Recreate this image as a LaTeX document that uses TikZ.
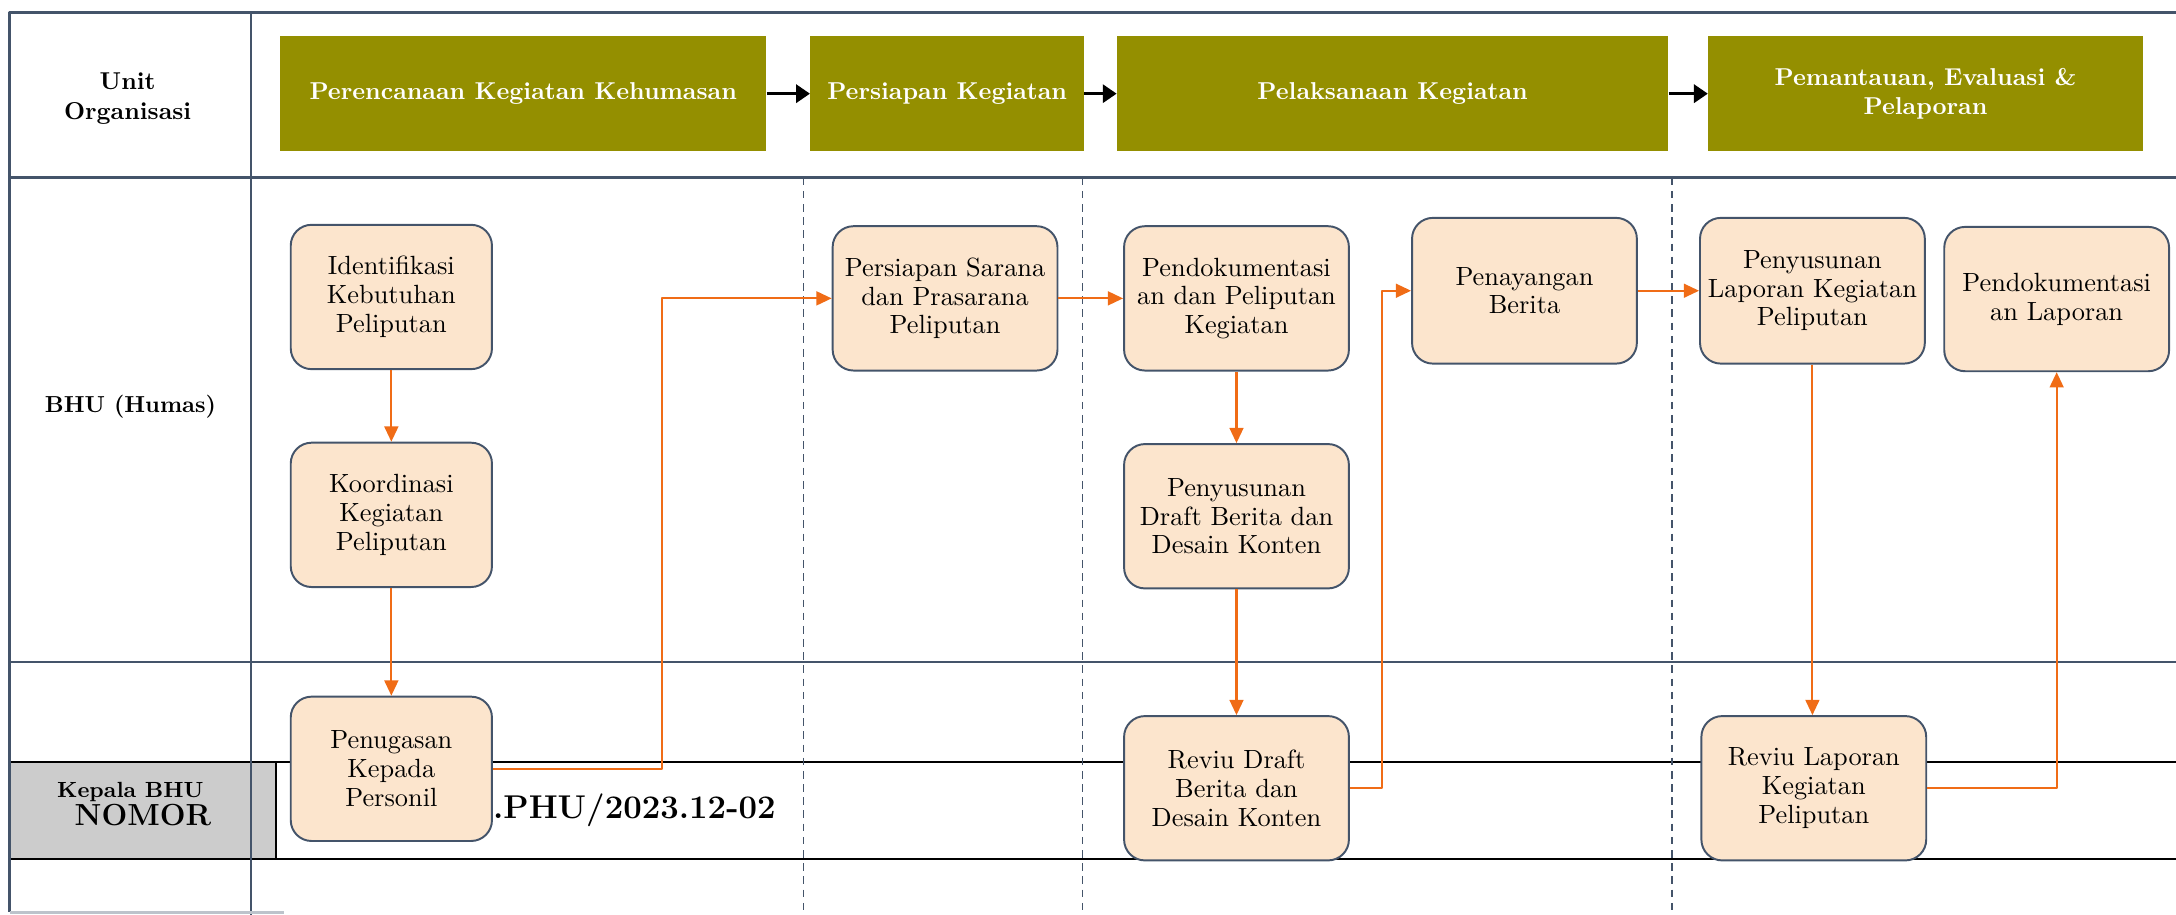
\documentclass[tikz,border=0pt]{standalone}
\usetikzlibrary{arrows.meta,positioning}
\definecolor{phasecol}{RGB}{148,143,0}
\definecolor{peach}{RGB}{252,229,205}
\definecolor{lanecol}{RGB}{68,84,106}
\definecolor{flowcol}{RGB}{240,108,22}
\definecolor{nomgray}{RGB}{204,204,204}
\begin{document}
\begin{tikzpicture}[x=0.2mm, y=-0.2mm, line join=round,
	phase/.style={fill=phasecol, text=white, font=\bfseries, align=center, minimum height=16.6mm, inner sep=0pt},
	proc/.style={draw=lanecol, line width=0.8pt, fill=peach, rounded corners=3mm, align=center, minimum width=32.4mm, minimum height=20.8mm, inner sep=1pt, font=\fontsize{10.8}{11.8}\selectfont},
	flow/.style={draw=flowcol, line width=0.85pt, -{Triangle[length=2.2mm,width=2mm]}},
	lane/.style={draw=lanecol, line width=1pt},
	phasearrow/.style={line width=1.3pt, -{Triangle[length=2mm,width=2.6mm]}}]
	\useasboundingbox (0,0) rectangle (1568,659);
	% baris nomor
	\filldraw[fill=nomgray, line width=1pt] (7,549) rectangle (199,619);
	\draw[line width=1pt] (199,549) -- (1568,549) (199,619) -- (1568,619);
	\node[font=\small\bfseries] (kepala) at (94,571) {Kepala BHU};
	\node[font=\fontsize{12.5}{14}\selectfont\bfseries] (nomor) at (103,587) {NOMOR};
	\node[font=\fontsize{13.5}{16}\selectfont\bfseries, anchor=west, inner sep=0pt] (nomval) at (355,584) {.PHU/2023.12-02};
	% garis lajur
	\draw[lane] (1568,9) -- (7,9) -- (7,657) (181,9) -- (181,659) (7,128) -- (1568,128) (7,477) -- (1568,477);
	\draw[lanecol!35, line width=1pt] (7,657.5) -- (205,657.5);
	\foreach \x in {579,780,1205} \draw[lanecol, line width=0.75pt, dash pattern=on 1.1mm off 0.8mm] (\x,128) -- (\x,659);
	\node[font=\bfseries, align=center] (unit) at (92,71) {Unit\\Organisasi};
	\node[font=\fontsize{9.5}{11}\selectfont\bfseries] (bhu) at (94,293) {BHU (Humas)};
	% tahapan
	\node[phase, minimum width=70mm] (ph1) at (377,67.5) {Perencanaan Kegiatan Kehumasan};
	\node[phase, minimum width=39.4mm] (ph2) at (682.5,67.5) {Persiapan Kegiatan};
	\node[phase, minimum width=79.4mm] (ph3) at (1003.5,67.5) {Pelaksanaan Kegiatan};
	\node[phase, minimum width=62.6mm] (ph4) at (1387.5,67.5) {Pemantauan, Evaluasi \&\\Pelaporan};
	\draw[phasearrow] (ph1) -- (ph2);
	\draw[phasearrow] (ph2) -- (ph3);
	\draw[phasearrow] (ph3) -- (ph4);
	% kegiatan
	\node[proc, minimum width=29mm] (idn) at (282,214) {Identifikasi\\Kebutuhan\\Peliputan};
	\node[proc, minimum width=29mm] (koor) at (282,371) {Koordinasi\\Kegiatan\\Peliputan};
	\node[proc, minimum width=29mm] (tugas) at (282,554) {Penugasan\\Kepada\\Personil};
	\node[proc] (sarana) at (681,215) {Persiapan Sarana\\dan Prasarana\\Peliputan};
	\node[proc] (doku) at (891,215) {Pendokumentasi\\an dan Peliputan\\Kegiatan};
	\node[proc] (draft) at (891,372) {Penyusunan\\Draft Berita dan\\Desain Konten};
	\node[proc] (revdraft) at (891,568) {Reviu Draft\\Berita dan\\Desain Konten};
	\node[proc, minimum height=21mm] (tayang) at (1098.5,209.5) {Penayangan\\Berita};
	\node[proc, minimum height=21mm] (lapor) at (1306,209.5) {Penyusunan\\Laporan Kegiatan\\Peliputan};
	\node[proc] (dokulap) at (1482,215.5) {Pendokumentasi\\an Laporan};
	\node[proc] (revlap) at (1307,568) {Reviu Laporan\\Kegiatan\\Peliputan};
	\draw[flow] (idn) -- (koor);
	\draw[flow] (koor) -- (tugas);
	\draw[flow] (tugas.east) -- ++(122,0) |- (sarana.west);
	\draw[flow] (sarana) -- (doku);
	\draw[flow] (doku) -- (draft);
	\draw[flow] (draft) -- (revdraft);
	\draw[flow] (revdraft.east) -- ++(23,0) |- (tayang.west);
	\draw[flow] (tayang) -- (lapor);
	\draw[flow] (lapor.south) -- (lapor.south |- revlap.north);
	\draw[flow] (revlap.east) -| (dokulap.south);
\end{tikzpicture}
\end{document}
